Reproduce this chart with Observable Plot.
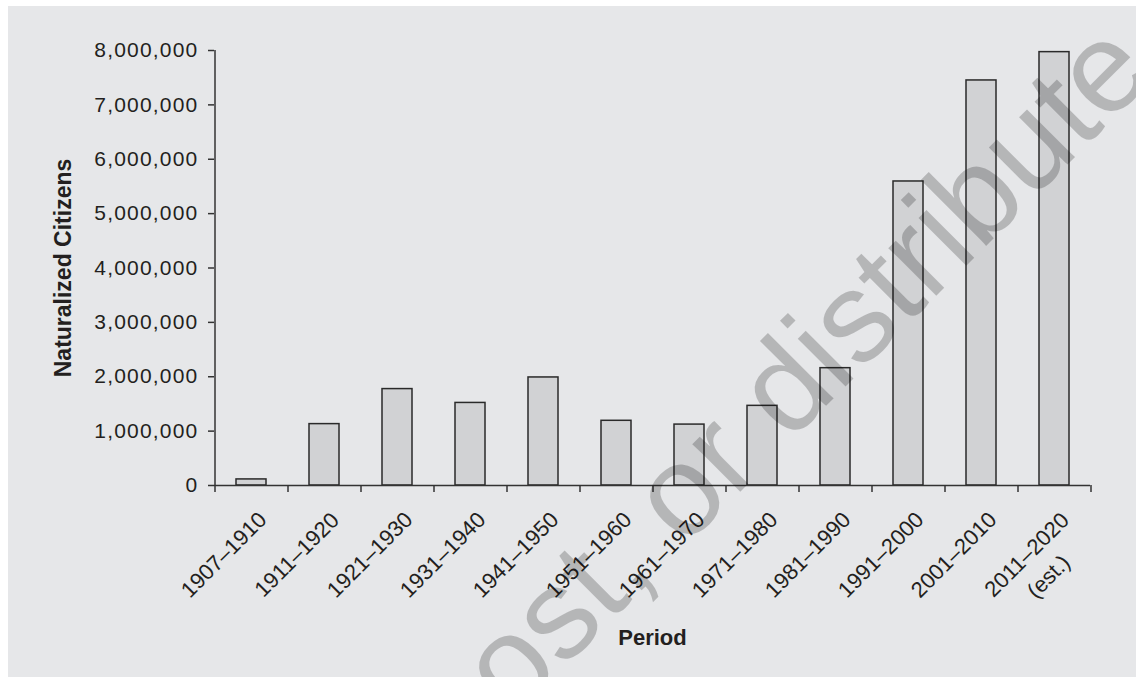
<!DOCTYPE html>
<html><head><meta charset="utf-8">
<script src="https://cdn.jsdelivr.net/npm/d3@7"></script>
<script src="https://cdn.jsdelivr.net/npm/@observablehq/plot@0.6"></script>
<style>
html,body{margin:0;padding:0;background:#fff;}
#chart{position:absolute;left:8px;top:6px;width:1128px;height:671px;background:#e6e7e9;overflow:hidden;}
g[aria-label="y-axis tick label"] text{letter-spacing:1.2px;}
g[aria-label="x tick labels"] text{letter-spacing:1.5px;}
</style></head><body><div id="chart"></div>
<script>
const categories = ["1907–1910","1911–1920","1921–1930","1931–1940","1941–1950","1951–1960","1961–1970","1971–1980","1981–1990","1991–2000","2001–2010","2011–2020 (est.)"];
const tickLabels = ["1907–1910","1911–1920","1921–1930","1931–1940","1941–1950","1951–1960","1961–1970","1971–1980","1981–1990","1991–2000","2001–2010","2011–2020\n(est.)"];
const naturalized = [111738,1128972,1773185,1518464,1987028,1189946,1120263,1464772,2157796,5591207,7449090,7970000];
const yTicks = [0,1000000,2000000,3000000,4000000,5000000,6000000,7000000,8000000];
const xTitle = "Period";
const yTitle = "Naturalized Citizens";
const watermark = "post, or distribute";

const W = 1128, H = 671, mL = 206, mR = 46, mT = 44, mB = 192;
const step = (W - mL - mR) / categories.length;
const data = categories.map((c, i) => ({period: c, label: tickLabels[i], value: naturalized[i]}));
const ink = "#231f20";

const plot = Plot.plot({
  width: W, height: H,
  marginLeft: mL, marginRight: mR, marginTop: mT, marginBottom: mB,
  style: {background: "transparent", fontFamily: "'Liberation Sans', Arial, Helvetica, sans-serif", color: ink, overflow: "visible"},
  x: {domain: categories, paddingInner: 0.59, paddingOuter: 0.295, axis: null, label: null},
  y: {domain: [0, 8000000], axis: null, label: null},
  marks: [
    Plot.barY(data, {x: "period", y: "value", fill: "#d1d2d4", stroke: "#2a2a2a", strokeWidth: 1.5}),
    Plot.ruleY([0], {stroke: "#333", strokeWidth: 1.5}),
    Plot.ruleX([categories[0]], {dx: -step / 2, y1: 0, y2: 8000000, stroke: "#333", strokeWidth: 1.5}),
    Plot.axisX({ticks: categories, tickSize: 7, tickFormat: () => "", dx: -step / 2, stroke: "#333", strokeWidth: 1.5, label: null}),
    Plot.axisX({ticks: [categories[categories.length - 1]], tickSize: 7, tickFormat: () => "", dx: step / 2, stroke: "#333", strokeWidth: 1.5, label: null}),
    Plot.axisY({ticks: yTicks, tickSize: 6, tickPadding: 10, tickFormat: d3.format(","), fontSize: 21, stroke: "#333", strokeWidth: 1.5, fill: ink, label: null}),
    Plot.text(data, {x: "period", frameAnchor: "bottom", text: "label", rotate: -45, textAnchor: "middle", lineAnchor: "top", lineHeight: 1.4, dx: -38, dy: 59, fontSize: 22, fill: ink, ariaLabel: "x tick labels"}),
    Plot.text([yTitle], {frameAnchor: "left", rotate: -90, textAnchor: "middle", lineAnchor: "middle", dx: -151, fontSize: 23, fontWeight: "bold", fill: ink}),
    Plot.text([xTitle], {frameAnchor: "bottom", textAnchor: "middle", lineAnchor: "middle", dy: 152, fontSize: 22, fontWeight: "bold", fill: ink}),
    Plot.text([watermark], {frameAnchor: "top-right", rotate: -45, textAnchor: "end", lineAnchor: "bottom", dx: 66, dy: 25, fontSize: 128, fill: "#000", fillOpacity: 0.21})
  ]
});
document.getElementById("chart").appendChild(plot);
</script></body></html>
